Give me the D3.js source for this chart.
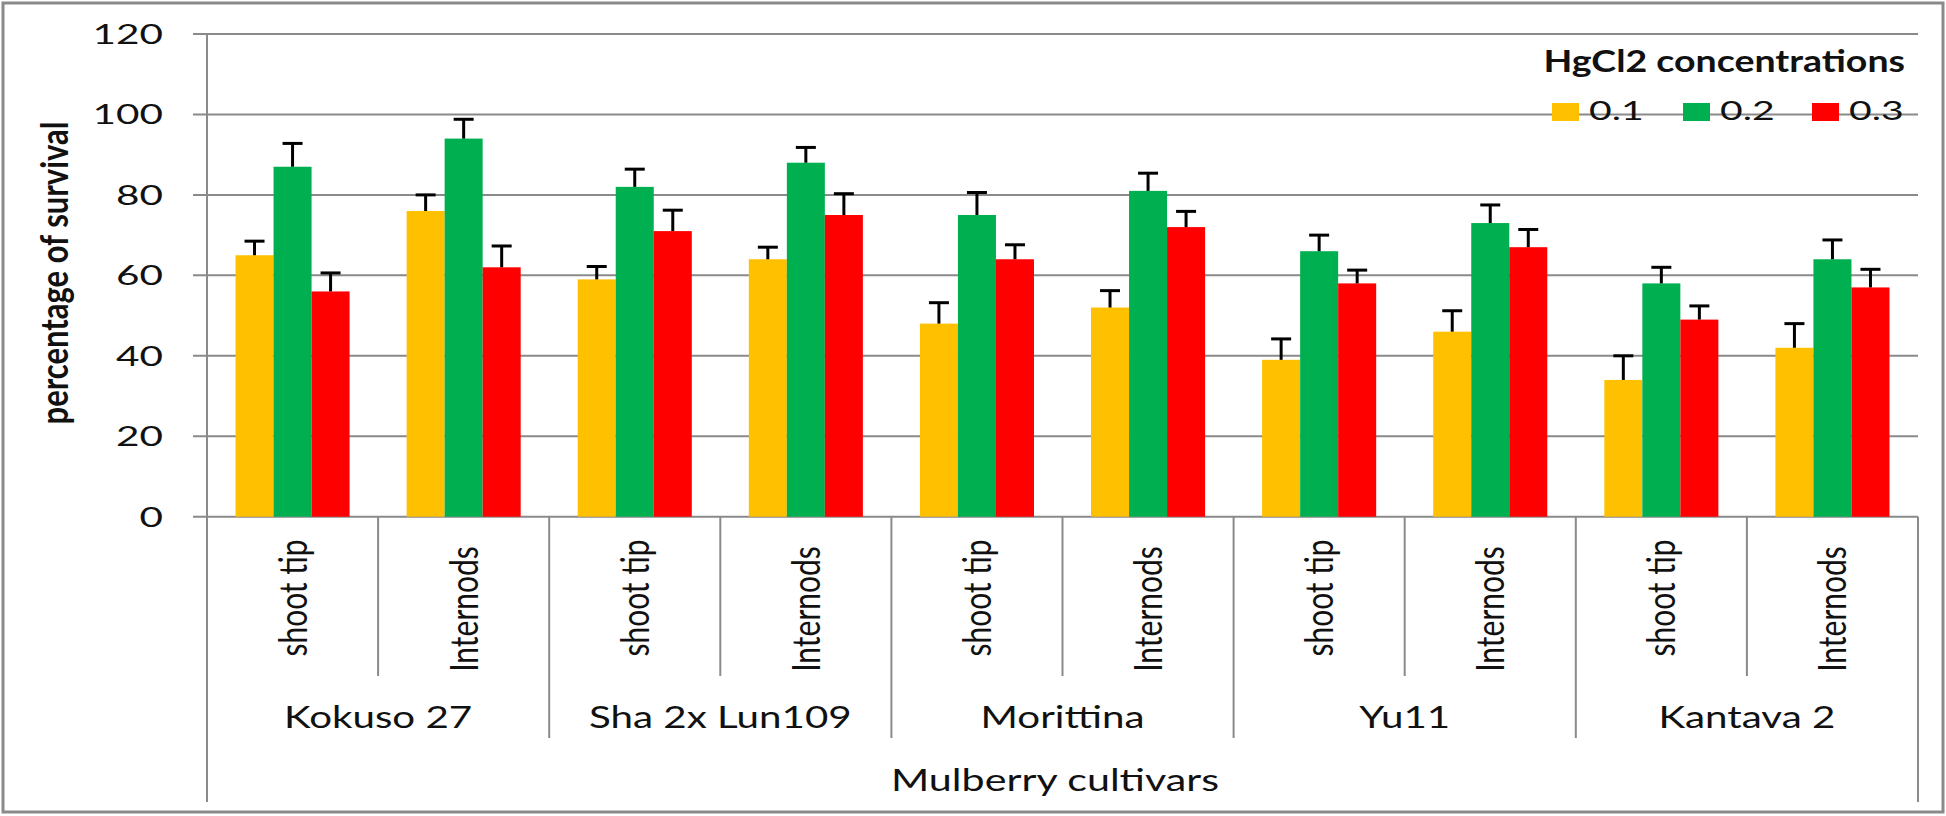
<!DOCTYPE html>
<html>
<head>
<meta charset="utf-8">
<script src="https://d3js.org/d3.v7.min.js"></script>
<style>
  body { margin: 0; background: #fff; }
  svg { display: block; }
  text { font-family: Lato, "Open Sans", sans-serif; fill: #111; }
  .bold { font-weight: 700; }
</style>
</head>
<body>
<svg id="chart"></svg>
<script>
// data
var cultivars = ["Kokuso 27", "Sha 2x Lun109", "Morittina", "Yu11", "Kantava 2"];
var explants = ["shoot tip", "Internods"];
var seriesNames = ["0.1", "0.2", "0.3"];
var seriesColors = ["#FFC000", "#00B050", "#FF0000"];

var conc01 = [65, 76, 59, 64, 48, 52, 39, 46, 34, 42];
var conc02 = [87, 94, 82, 88, 75, 81, 66, 73, 58, 64];
var conc03 = [56, 62, 71, 75, 64, 72, 58, 67, 49, 57];
var err01 = [3.5, 4, 3.2, 3, 5.2, 4.2, 5.2, 5.2, 6, 6];
var err02 = [5.8, 4.8, 4.4, 3.8, 5.6, 4.4, 4, 4.5, 4, 4.8];
var err03 = [4.6, 5.3, 5.2, 5.3, 3.6, 3.9, 3.3, 4.4, 3.4, 4.5];
var yTicks = [0, 20, 40, 60, 80, 100, 120];

// build rows: one per cultivar x explant
var rows = [];
cultivars.forEach(function(c, ci) {
  explants.forEach(function(e, ei) {
    var i = ci * 2 + ei;
    rows.push({ id: i, cultivar: c, explant: e, ei: ei,
      vals: [conc01[i], conc02[i], conc03[i]],
      errs: [err01[i], err02[i], err03[i]] });
  });
});

var W = 1946, H = 816;
var svg = d3.select("#chart").attr("width", W).attr("height", H);

var m = { left: 207, right: 1918, top: 34, bottom: 516.7 };
var gray = "#8a8a8a";

var x0 = d3.scaleBand().domain(rows.map(function(d) { return d.id; }))
  .range([m.left, m.right]).paddingInner(0).paddingOuter(0);
var x1 = d3.scaleBand().domain([0, 1, 2]).range([0, x0.bandwidth()])
  .paddingInner(0).paddingOuter(0.75);
var y = d3.scaleLinear().domain([0, 120]).range([m.bottom, m.top]);

// outer border
svg.append("rect")
  .attr("x", 3).attr("y", 3).attr("width", W - 6).attr("height", H - 7)
  .attr("fill", "#fff").attr("stroke", gray).attr("stroke-width", 3);

// stretched text helper (the source picture is widened horizontally)
function label(x, yy, txt, size, sx, anchor, rot, bold) {
  var g = svg.append("g")
    .attr("transform", "translate(" + x + "," + yy + ") scale(" + sx + ",1)" + (rot ? " rotate(-90)" : ""));
  return g.append("text")
    .attr("class", bold ? "bold" : null)
    .attr("font-size", size)
    .attr("text-anchor", anchor)
    .text(txt);
}

// gridlines + ticks
svg.append("g").selectAll("line").data(yTicks).enter().append("line")
  .attr("x1", m.left - 14).attr("x2", m.right)
  .attr("y1", function(d) { return y(d); }).attr("y2", function(d) { return y(d); })
  .attr("stroke", gray).attr("stroke-width", 2);

yTicks.forEach(function(t) {
  label(163, y(t) + 10, t, 27, 1.5, "end", false, false);
});

// y axis line
svg.append("line").attr("x1", m.left).attr("x2", m.left).attr("y1", m.top).attr("y2", 802)
  .attr("stroke", gray).attr("stroke-width", 2);

// category dividers
var divs = d3.range(1, rows.length + 1);
svg.append("g").selectAll("line").data(divs).enter().append("line")
  .attr("x1", function(d) { return m.left + d * x0.step(); })
  .attr("x2", function(d) { return m.left + d * x0.step(); })
  .attr("y1", m.bottom)
  .attr("y2", function(d) { return d === rows.length ? 802 : (d % 2 === 0 ? 738 : 676); })
  .attr("stroke", gray).attr("stroke-width", 2);

// bars
var grp = svg.append("g").selectAll("g").data(rows).enter().append("g")
  .attr("transform", function(d) { return "translate(" + x0(d.id) + ",0)"; });

grp.selectAll("rect").data(function(d) { return d.vals; }).enter().append("rect")
  .attr("x", function(d, i) { return x1(i); })
  .attr("width", x1.bandwidth())
  .attr("y", function(d) { return y(d); })
  .attr("height", function(d) { return y(0) - y(d); })
  .attr("fill", function(d, i) { return seriesColors[i]; });

// error bars (plus only)
var eb = grp.selectAll("g.err").data(function(d) {
    return d.vals.map(function(v, i) { return { v: v, e: d.errs[i], i: i }; });
  }).enter().append("g").attr("class", "err");
eb.append("line")
  .attr("x1", function(d) { return x1(d.i) + x1.bandwidth() / 2; })
  .attr("x2", function(d) { return x1(d.i) + x1.bandwidth() / 2; })
  .attr("y1", function(d) { return y(d.v); })
  .attr("y2", function(d) { return y(d.v + d.e); })
  .attr("stroke", "#000").attr("stroke-width", 3);
eb.append("line")
  .attr("x1", function(d) { return x1(d.i) + x1.bandwidth() / 2 - 10; })
  .attr("x2", function(d) { return x1(d.i) + x1.bandwidth() / 2 + 10; })
  .attr("y1", function(d) { return y(d.v + d.e); })
  .attr("y2", function(d) { return y(d.v + d.e); })
  .attr("stroke", "#000").attr("stroke-width", 3);

// x labels
var explantMid = [598, 609];
rows.forEach(function(d) {
  label(x0(d.id) + x0.bandwidth() / 2 + 14, explantMid[d.ei], d.explant, 30, 1.3, "middle", true, false);
});
cultivars.forEach(function(c, ci) {
  label(m.left + (ci * 2 + 1) * x0.step(), 728, c, 31, 1.3, "middle", false, false);
});
label(1055, 791, "Mulberry cultivars", 31, 1.33, "middle", false, false);

// y title
label(68, 273, "percentage of survival", 31, 1.25, "middle", true, true);

// legend
label(1905, 72, "HgCl2 concentrations", 30, 1.25, "end", false, true);
var legX = [1552, 1683, 1812];
seriesNames.forEach(function(s, i) {
  svg.append("rect").attr("x", legX[i]).attr("y", 103).attr("width", 27).attr("height", 18)
    .attr("fill", seriesColors[i]);
  label(legX[i] + 37, 120, s, 27, 1.45, "start", false, false);
});
</script>
</body>
</html>
